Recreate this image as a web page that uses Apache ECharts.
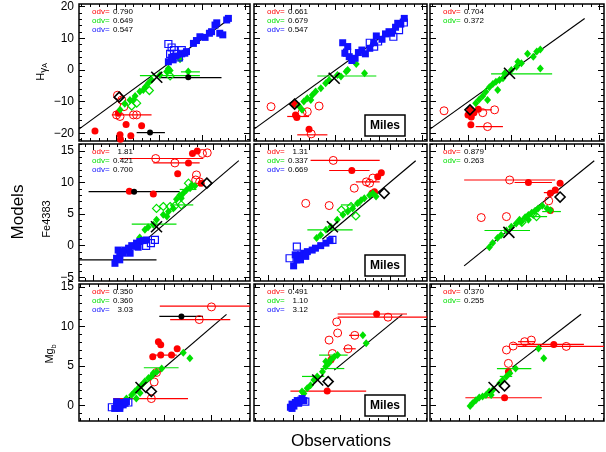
<!DOCTYPE html>
<html><head><meta charset="utf-8">
<script src="https://cdn.jsdelivr.net/npm/echarts@6/dist/echarts.min.js"></script>
<style>html,body{margin:0;padding:0;background:#fff}#c{width:606px;height:452px}</style>
</head><body><div id="c"></div>
<script>
// ---------------- tick values ----------------
const xMajorTicks = [[-10,0,10,20],[-5,0,5,10],[0,5,10]];
const yMajorTicks = [[-20,-10,0,10,20],[-5,0,5,10,15],[0,5,10,15]];
const xMinorStep = [2,1,1];
const yMinorStep = [2,1,1];
const rowLabels = ['Hγ_A','Fe4383','Mg_b'];

// ---------------- data: Hγ_A row ----------------
const R1C1_redF = [[-14.9,-19.3],[-7.7,-17.2],[-9.1,-20.5],[-9.0,-21.9],[-6.6,-20.8],[-4.1,-17.6],[-9.5,-13.7]];
const R1C1_redO = [[-9.7,-8.0],[-8.7,-9.5],[-8.2,-11.6],[-9.9,-14.2],[-9.1,-14.7],[-6.0,-14.2],[-5.25,-14.2]];
const R1C1_grnF = [[-9.1,-12.6],[-8.0,-10.7],[-6.8,-9.5],[-5.6,-8.2],[-4.5,-6.8],[-3.3,-5.5],[-2.55,-4.2],[-1.8,-3.15],[0.15,-1.6],[1.7,-0.5],[2.1,0.5],[2.5,-0.2],[4.8,3.4],[6.7,-0.5],[-3.7,-6.3],[-6.0,-9.5]];
const R1C1_grnO = [[-6.4,-11.4],[-5.25,-10.5],[-2.3,-6.5],[2.5,-1.9]];
const R1C1_bluF = [[2.1,2.6],[3.2,3.2],[2.85,4.0],[3.85,4.4],[5.2,5.1],[5.9,5.3],[6.3,5.8],[7.9,8.4],[8.6,9.3],[9.4,10.5],[10.6,10.3],[11.6,11.6],[12.1,12.1],[12.9,14.2],[13.3,14.9],[14.0,11.6],[14.7,11.1],[15.6,15.8],[16.0,16.3]];
const R1C1_bluO = [[2.1,8.2],[2.85,7.1],[2.5,5.1],[3.4,6.3],[4.0,5.1],[5.2,6.3],[4.55,4.0]];
const R1C1_blkF = [[-2.15,-19.8],[6.7,-2.3]];
const R1C1_cross = [[-0.6,-2.3]];
const R1C1_dia = [[-9.3,-8.6]];
const R1C1_errR = [[-11.0,-1.8,-14.2]];
const R1C1_errG = [[-4.5,9.4,-1.8],[5.0,9.4,-0.6]];
const R1C1_errK = [[0.15,14.4,-2.4],[-5.25,1.3,-19.8]];
const R1C1_line = [[-18.6,-18.7],[16.35,16.3]];
const R1C1_odv = ['0.790','0.649','0.547'];

const R1C2_redF = [[-9.1,-14.2],[-8.8,-15.0],[-6.0,-18.7],[-9.3,-10.8]];
const R1C2_redO = [[-14.7,-11.6],[-3.7,-11.4],[-6.4,-13.2],[-7.6,-13.5],[-5.5,-20.2]];
const R1C2_grnF = [[-8.3,-11.4],[-7.2,-10.0],[-6.4,-8.9],[-5.25,-7.9],[-4.5,-6.8],[-3.3,-5.8],[-2.2,-4.2],[-1.4,-3.15],[0.5,-1.6],[1.3,-2.1],[2.5,-0.5],[2.85,0.0],[4.8,1.9],[6.7,-1.05],[-7.6,-12.6],[-5.6,-9.5]];
const R1C2_grnO = [];
const R1C2_bluF = [[1.7,8.6],[2.85,7.4],[2.2,5.3],[3.2,4.2],[3.8,3.0],[4.55,3.7],[5.3,5.5],[6.1,6.3],[6.9,5.1],[7.9,6.85],[8.8,8.6],[9.4,10.75],[10.7,9.7],[11.5,11.4],[12.3,12.1],[12.9,11.6],[13.8,13.5],[14.3,14.75],[15.0,14.5],[15.8,16.3]];
const R1C2_bluO = [[2.7,5.5],[7.9,8.6],[8.9,7.4],[9.8,9.0],[13.3,10.5],[14.6,12.6],[15.7,15.0]];
const R1C2_blkF = [];
const R1C2_cross = [[-0.25,-2.6]];
const R1C2_dia = [[-9.3,-10.8]];
const R1C2_errR = [[-11.0,-6.0,-14.7],[-8.7,-1.8,-20.5]];
const R1C2_errG = [[-4.1,9.4,-1.9]];
const R1C2_errK = [];
const R1C2_line = [[-18.6,-18.7],[16.35,16.3]];
const R1C2_odv = ['0.661','0.679','0.547'];

const R1C3_redF = [[-9.95,-14.2],[-9.2,-14.9],[-8.6,-13.5],[-7.6,-12.4],[-9.3,-17.3],[-9.5,-12.6]];
const R1C3_redO = [[-15.4,-12.9],[-6.6,-13.5],[-3.9,-12.6],[-5.5,-17.9]];
const R1C3_grnF = [[-8.2,-10.5],[-7.4,-9.3],[-6.6,-8.2],[-5.9,-6.85],[-5.1,-5.5],[-4.3,-4.4],[-3.6,-3.7],[-2.8,-3.15],[-2.0,-2.6],[-1.6,-1.05],[-0.1,0.0],[1.1,1.05],[2.2,2.1],[3.6,5.1],[4.9,4.2],[5.7,5.8],[6.5,6.5],[6.5,0.5],[-5.5,-9.5],[-3.2,-6.3],[1.4,2.6]];
const R1C3_grnO = [];
const R1C3_bluF = [];
const R1C3_bluO = [];
const R1C3_blkF = [];
const R1C3_cross = [[-0.5,-1.05]];
const R1C3_dia = [[-9.5,-12.6]];
const R1C3_errR = [[-8.2,-2.0,-17.9],[-8.0,-4.5,-12.6]];
const R1C3_errG = [[-4.7,9.2,-1.25]];
const R1C3_errK = [];
const R1C3_line = [[-18.6,-18.7],[16.6,16.3]];
const R1C3_odv = ['0.704','0.372'];

// ---------------- data: Fe4383 row ----------------
const R2C1_redF = [[7.4,14.6],[8.0,15.0],[6.9,13.1],[5.55,11.4],[-0.5,8.6],[2.5,8.2],[8.5,9.9]];
const R2C1_redO = [[2.8,13.8],[5.2,13.1],[7.9,11.2],[7.8,10.4],[8.3,10.1],[8.65,14.6],[9.25,14.7]];
const R2C1_grnF = [[0.8,1.3],[1.45,2.5],[1.85,2.9],[2.5,3.3],[2.9,4.1],[3.75,4.9],[4.4,5.4],[5.0,5.9],[5.4,7.35],[6.0,7.5],[6.25,8.3],[6.65,8.8],[7.1,9.1],[7.3,9.6],[7.7,9.45],[5.8,8.0],[4.2,4.6]];
const R2C1_grnO = [[2.9,5.9],[3.75,6.2],[4.6,6.2],[5.2,6.3],[6.0,6.45],[6.9,9.9]];
const R2C1_bluF = [[-2.3,-2.8],[-2.1,-2.0],[-1.7,-1.5],[-1.5,-0.95],[-1.05,-0.7],[-0.6,-0.4],[-0.2,0.0],[0.2,-0.1],[0.4,0.4],[0.8,0.65],[1.25,0.8],[1.65,0.9],[-1.9,-0.7],[-1.25,-1.2],[-1.7,-2.25],[-0.4,-1.2],[0.6,-0.25]];
const R2C1_bluO = [[1.6,-0.05],[2.2,0.4],[2.7,0.9]];
const R2C1_blkF = [[0.1,8.55]];
const R2C1_cross = [[2.9,3.0]];
const R2C1_dia = [[9.2,9.9]];
const R2C1_errR = [[-1.7,8.75,13.8],[2.5,8.3,13.1]];
const R2C1_errG = [[-0.2,5.4,3.4],[4.6,7.5,6.45],[5.8,7.9,8.9]];
const R2C1_errK = [[-6.8,2.9,-2.25],[-5.6,5.8,8.55]];
const R2C1_line = [[1.65,1.0],[13.2,13.46]];
const R2C1_odv = ['1.81','0.421','0.700'];

const R2C2_redF = [[5.3,11.9],[8.95,11.55],[8.5,10.9],[7.8,8.3],[8.1,8.55]];
const R2C2_redO = [[3.0,13.5],[-0.4,6.7],[2.5,6.35],[5.6,9.1],[7.1,10.1],[7.5,9.9],[7.9,10.7]];
const R2C2_grnF = [[0.95,1.2],[1.45,1.7],[2.1,2.5],[2.7,3.0],[3.5,4.1],[4.2,4.9],[4.8,5.4],[5.4,5.9],[6.0,6.7],[6.45,7.2],[6.85,7.5],[7.5,8.0],[7.9,8.3],[8.3,7.8]];
const R2C2_grnO = [[4.0,5.65],[5.8,4.7],[5.2,6.2]];
const R2C2_bluF = [[-1.9,-3.2],[-1.5,-2.25],[-1.05,-1.45],[-0.65,-1.2],[-0.2,-0.95],[0.4,-0.7],[0.8,-0.4],[1.45,0.0],[2.1,0.4],[2.6,0.8],[-1.05,-2.25],[-0.4,-1.7],[-1.7,-1.45]];
const R2C2_bluO = [[-2.4,-2.0],[-1.5,-0.15],[2.9,0.9]];
const R2C2_blkF = [];
const R2C2_cross = [[2.9,3.0]];
const R2C2_dia = [[9.3,8.3]];
const R2C2_errR = [[0.2,8.75,13.5],[2.5,7.5,11.9],[5.8,8.75,10.1]];
const R2C2_errG = [[-0.2,5.4,2.5],[3.95,6.45,6.45]];
const R2C2_errK = [];
const R2C2_line = [[1.65,1.0],[13.2,13.46]];
const R2C2_odv = ['1.31','0.337','0.669'];

const R2C3_redF = [[5.3,10.0],[9.2,9.9],[8.0,8.3],[8.6,8.8],[8.0,5.55]];
const R2C3_redO = [[3.0,10.4],[-0.5,4.45],[2.6,4.6],[7.8,7.1]];
const R2C3_grnF = [[0.5,-0.25],[0.9,0.4],[1.5,1.2],[1.95,1.7],[2.6,2.4],[3.2,3.0],[3.8,3.5],[4.2,4.1],[4.9,4.5],[5.3,4.85],[5.7,5.2],[6.1,5.5],[6.5,5.9],[7.0,6.3],[7.6,5.9],[8.0,5.6],[5.3,4.1],[4.45,3.8]];
const R2C3_grnO = [[6.3,4.6],[4.5,3.7],[5.9,5.0]];
const R2C3_bluF = [];
const R2C3_bluO = [];
const R2C3_blkF = [];
const R2C3_cross = [[2.9,2.1]];
const R2C3_dia = [[9.2,7.7]];
const R2C3_errR = [[-2.6,8.6,10.4],[3.6,8.2,10.0],[7.2,9.0,8.4]];
const R2C3_errG = [[-0.1,5.5,2.4],[4.9,7.6,4.6],[7.0,9.3,5.4]];
const R2C3_errK = [];
const R2C3_line = [[-2.6,-3.2],[13.4,13.46]];
const R2C3_odv = ['0.879','0.263'];

// ---------------- data: Mg_b row ----------------
const R3C1_redF = [[4.35,8.1],[4.6,7.7],[3.75,6.2],[4.6,6.4],[5.75,6.4],[6.35,7.2]];
const R3C1_redO = [[10.0,12.5],[8.7,10.9],[4.15,4.2],[3.6,0.9],[3.9,3.0]];
const R3C1_grnF = [[0.95,0.9],[1.5,1.35],[1.85,1.8],[2.2,2.2],[2.55,2.6],[2.9,3.05],[3.3,3.5],[3.6,3.7],[3.8,4.1],[4.15,4.3],[4.7,4.7],[7.0,6.7],[7.7,6.0],[2.0,0.9],[2.4,1.6]];
const R3C1_grnO = [];
const R3C1_bluF = [[-0.3,-0.35],[-0.1,0.1],[0.1,0.3],[0.25,-0.05],[0.45,0.4],[0.6,0.1],[0.8,0.3],[0.95,0.5],[-0.1,0.5],[0.25,-0.35]];
const R3C1_bluO = [[-0.6,-0.2],[1.15,0.4]];
const R3C1_blkF = [[6.8,11.3]];
const R3C1_cross = [[2.5,2.3]];
const R3C1_dia = [[3.6,1.8]];
const R3C1_errR = [[4.5,14.5,12.6],[5.6,12.0,10.9],[-0.45,7.5,0.9],[3.75,6.3,6.4]];
const R3C1_errG = [[2.8,6.5,4.8]];
const R3C1_errK = [[4.45,9.1,11.3]];
const R3C1_line = [[1.15,0.9],[11.6,11.56]];
const R3C1_odv = ['0.350','0.360','3.03'];

const R3C2_redF = [[8.8,11.6],[4.0,5.8],[3.6,1.85]];
const R3C2_redO = [[4.6,10.6],[4.7,9.2],[3.8,8.3],[6.5,8.9],[5.8,7.2],[10.0,11.2],[4.15,6.6]];
const R3C2_grnF = [[1.15,1.55],[1.5,2.2],[1.85,2.6],[2.2,3.25],[2.55,3.7],[3.1,4.3],[3.45,4.95],[3.8,5.4],[4.0,5.8],[4.35,6.2],[4.7,6.4],[7.35,8.9],[7.7,7.9],[0.95,1.8],[3.45,5.6]];
const R3C2_grnO = [];
const R3C2_bluF = [[-0.27,-0.2],[-0.1,0.2],[0.1,-0.05],[0.25,0.4],[0.45,0.65],[0.6,0.3],[0.8,0.7],[0.95,0.9],[1.15,0.65],[-0.1,-0.35]];
const R3C2_bluO = [[1.3,0.5]];
const R3C2_blkF = [];
const R3C2_cross = [[2.6,3.25]];
const R3C2_dia = [[3.7,3.05]];
const R3C2_errR = [[4.7,12.0,11.6],[4.7,14.5,11.2],[-0.27,7.7,1.85],[5.9,6.95,8.9],[5.3,6.6,7.2]];
const R3C2_errG = [[2.75,5.75,6.4],[2.9,5.4,4.7],[0.95,3.3,3.7]];
const R3C2_errK = [];
const R3C2_line = [[4.34,4.5],[11.5,11.56]];
const R3C2_odv = ['0.491','1.10','3.12'];

const R3C3_redF = [[8.85,7.75],[4.1,4.3],[3.7,1.0]];
const R3C3_redO = [[3.9,7.05],[4.6,7.55],[5.8,8.1],[6.5,8.3],[10.15,7.5],[4.1,5.35]];
const R3C3_grnF = [[0.1,-0.05],[0.35,0.3],[0.7,0.7],[1.05,1.05],[1.4,1.15],[1.75,1.35],[2.1,1.8],[2.5,2.0],[3.2,2.85],[3.5,3.25],[3.9,3.7],[4.25,4.1],[4.85,4.7],[7.25,7.25],[7.8,6.0],[2.3,1.35]];
const R3C3_grnO = [];
const R3C3_bluF = [];
const R3C3_bluO = [];
const R3C3_blkF = [];
const R3C3_cross = [[2.6,2.3]];
const R3C3_dia = [[3.7,2.5]];
const R3C3_errR = [[4.4,12.0,7.75],[5.1,14.5,7.5],[-0.4,7.6,1.0],[5.1,6.9,8.1]];
const R3C3_errG = [[2.9,6.5,4.7],[3.2,4.5,3.7]];
const R3C3_errK = [];
const R3C3_line = [[4.5,4.85],[11.7,11.56]];
const R3C3_odv = ['0.370','0.255'];

// ---------------- layout ----------------
const COLS = [[79,171],[254,173],[430,174]];
const ROWS = [[4,137],[144,137],[284,137]];
const XR = [[-18.6,21],[-6.8,14.6],[-4.1,14.1]];
const YR = [[-22.45,20.85],[-5.6,16.1],[-1.94,15.4]];
const RED='#ff0000', GRN='#00e000', BLU='#1010ff';
const FONT='"Liberation Sans", Arial, Helvetica, sans-serif';

const PANELS = [
  [R1C1_redF,R1C1_redO,R1C1_grnF,R1C1_grnO,R1C1_bluF,R1C1_bluO,R1C1_blkF,R1C1_cross,R1C1_dia,R1C1_errR,R1C1_errG,R1C1_errK,R1C1_line,R1C1_odv],
  [R1C2_redF,R1C2_redO,R1C2_grnF,R1C2_grnO,R1C2_bluF,R1C2_bluO,R1C2_blkF,R1C2_cross,R1C2_dia,R1C2_errR,R1C2_errG,R1C2_errK,R1C2_line,R1C2_odv],
  [R1C3_redF,R1C3_redO,R1C3_grnF,R1C3_grnO,R1C3_bluF,R1C3_bluO,R1C3_blkF,R1C3_cross,R1C3_dia,R1C3_errR,R1C3_errG,R1C3_errK,R1C3_line,R1C3_odv],
  [R2C1_redF,R2C1_redO,R2C1_grnF,R2C1_grnO,R2C1_bluF,R2C1_bluO,R2C1_blkF,R2C1_cross,R2C1_dia,R2C1_errR,R2C1_errG,R2C1_errK,R2C1_line,R2C1_odv],
  [R2C2_redF,R2C2_redO,R2C2_grnF,R2C2_grnO,R2C2_bluF,R2C2_bluO,R2C2_blkF,R2C2_cross,R2C2_dia,R2C2_errR,R2C2_errG,R2C2_errK,R2C2_line,R2C2_odv],
  [R2C3_redF,R2C3_redO,R2C3_grnF,R2C3_grnO,R2C3_bluF,R2C3_bluO,R2C3_blkF,R2C3_cross,R2C3_dia,R2C3_errR,R2C3_errG,R2C3_errK,R2C3_line,R2C3_odv],
  [R3C1_redF,R3C1_redO,R3C1_grnF,R3C1_grnO,R3C1_bluF,R3C1_bluO,R3C1_blkF,R3C1_cross,R3C1_dia,R3C1_errR,R3C1_errG,R3C1_errK,R3C1_line,R3C1_odv],
  [R3C2_redF,R3C2_redO,R3C2_grnF,R3C2_grnO,R3C2_bluF,R3C2_bluO,R3C2_blkF,R3C2_cross,R3C2_dia,R3C2_errR,R3C2_errG,R3C2_errK,R3C2_line,R3C2_odv],
  [R3C3_redF,R3C3_redO,R3C3_grnF,R3C3_grnO,R3C3_bluF,R3C3_bluO,R3C3_blkF,R3C3_cross,R3C3_dia,R3C3_errR,R3C3_errG,R3C3_errK,R3C3_line,R3C3_odv]
];

function steps(a, b, s) { const o=[]; for (let v=Math.ceil(a/s)*s; v<=b+1e-9; v+=s) o.push(+v.toFixed(6)); return o; }
function fmt(v){ return v<0 ? '\u2212'+Math.abs(v) : String(v); }

const grid=[], xAxis=[], yAxis=[], series=[], graphic=[];

function tickAxis(kind, p, r, pos, vals, len, labels) {
  const isX = kind==='x';
  const rng = isX ? XR[r] : YR[r];
  return {
    type:'value', gridIndex:p, position:pos, min:rng[0], max:rng[1],
    splitLine:{show:false}, axisLine:{show:false,onZero:false},
    axisTick:{show:true, inside:true, length:len, customValues:vals, lineStyle:{color:'#000',width:1}},
    axisLabel: labels ? {show:true, customValues:labels, formatter:fmt, color:'#000', fontSize:12, fontFamily:FONT, margin:5} : {show:false}
  };
}

function errSeries(p, data, color) {
  return {type:'custom', xAxisIndex:4*p, yAxisIndex:4*p, data:data, clip:true, silent:true, z:2,
    renderItem:function(params, api){
      const y=api.value(2); const a=api.coord([api.value(0),y]); const b=api.coord([api.value(1),y]);
      return {type:'line', shape:{x1:a[0],y1:a[1],x2:b[0],y2:b[1]}, style:{stroke:color, lineWidth:1.2}};
    }};
}
function sc(p, data, symbol, size, fill, stroke, bw, z) {
  return {type:'scatter', xAxisIndex:4*p, yAxisIndex:4*p, data:data, symbol:symbol, symbolSize:size, silent:true, z:z,
    itemStyle:{color:fill, borderColor:stroke, borderWidth:bw, opacity:1}};
}

for (let r=0; r<3; r++) for (let c=0; c<3; c++) {
  const p = r*3+c;
  const [L,W] = COLS[c], [T,H] = ROWS[r];
  grid.push({left:L, top:T, width:W, height:H, show:true, borderColor:'#000', borderWidth:1.5, backgroundColor:'rgba(0,0,0,0)'});
  const xMin = steps(XR[r][0], XR[r][1], xMinorStep[r]);
  const yMin = steps(YR[r][0], YR[r][1], yMinorStep[r]);
  xAxis.push(tickAxis('x',p,r,'bottom',xMajorTicks[r],6,null));
  xAxis.push(tickAxis('x',p,r,'bottom',xMin,3,null));
  xAxis.push(tickAxis('x',p,r,'top',xMajorTicks[r],6,null));
  xAxis.push(tickAxis('x',p,r,'top',xMin,3,null));
  yAxis.push(tickAxis('y',p,r,'left',yMajorTicks[r],6,c===0?yMajorTicks[r]:null));
  yAxis.push(tickAxis('y',p,r,'left',yMin,3,null));
  yAxis.push(tickAxis('y',p,r,'right',yMajorTicks[r],6,null));
  yAxis.push(tickAxis('y',p,r,'right',yMin,3,null));

  const [redF,redO,grnF,grnO,bluF,bluO,blkF,cross,dia,errR,errG,errK,line,odv] = PANELS[p];
  series.push({type:'line', xAxisIndex:4*p, yAxisIndex:4*p, data:line, symbol:'none', silent:true, z:1,
    lineStyle:{color:'#000', width:1.2}, clip:true});
  series.push(errSeries(p, errR, RED));
  series.push(errSeries(p, errG, GRN));
  series.push(sc(p, redO, 'circle', 8, 'rgba(0,0,0,0)', RED, 1, 3));
  series.push(sc(p, redF, 'circle', 7, RED, RED, 0, 4));
  series.push(sc(p, grnO, 'diamond', 8, 'rgba(0,0,0,0)', GRN, 1.2, 5));
  series.push(sc(p, grnF, 'diamond', [7,8], GRN, GRN, 0, 6));
  series.push(sc(p, bluO, 'rect', 7, 'rgba(0,0,0,0)', BLU, 1.2, 7));
  series.push(sc(p, bluF, 'rect', 7, BLU, BLU, 0, 8));
  series.push(errSeries(p, errK, '#000'));
  series.push(sc(p, blkF, 'circle', 6, '#000', '#000', 0, 9));
  series.push(sc(p, dia, 'diamond', 10, 'rgba(0,0,0,0)', '#000', 1.6, 10));
  series.push({type:'custom', xAxisIndex:4*p, yAxisIndex:4*p, data:cross, silent:true, z:10,
    renderItem:function(params, api){
      const q=api.coord([api.value(0),api.value(1)]); const d=5.5;
      return {type:'group', children:[
        {type:'line', shape:{x1:q[0]-d,y1:q[1]-d,x2:q[0]+d,y2:q[1]+d}, style:{stroke:'#000',lineWidth:1.6}},
        {type:'line', shape:{x1:q[0]-d,y1:q[1]+d,x2:q[0]+d,y2:q[1]-d}, style:{stroke:'#000',lineWidth:1.6}}]};
    }});

  const cols=[RED,GRN,BLU];
  odv.forEach(function(v,i){
    const y = T + 8 + i*8.7;
    graphic.push({type:'text', x:L+13, y:y, z:20, style:{text:'odv=', fill:cols[i], font:'8px '+FONT, textAlign:'left', textVerticalAlign:'middle'}});
    graphic.push({type:'text', x:L+54, y:y, z:20, style:{text:v, fill:'#000', font:'8px '+FONT, textAlign:'right', textVerticalAlign:'middle'}});
  });
  if (c===1) {
    graphic.push({type:'rect', z:20, shape:{x:365, y:T+H-26, width:40, height:21}, style:{fill:'#fff', stroke:'#000', lineWidth:1.5}});
    graphic.push({type:'text', z:21, x:385, y:T+H-15.5, style:{text:'Miles', fill:'#000', font:'bold 12px '+FONT, textAlign:'center', textVerticalAlign:'middle'}});
  }
}

// row titles (rotated)
const rowTitlePos = [[41,72],[47,219],[50,354]];
const rich = {n:{fontSize:11, fontFamily:FONT, fill:'#000', verticalAlign:'middle', lineHeight:16},
              g:{fontSize:10, fontFamily:FONT, fill:'#000', verticalAlign:'bottom', lineHeight:12},
              s:{fontSize:7, fontFamily:FONT, fill:'#000', verticalAlign:'bottom', lineHeight:7}};
const rowTitleRich = ['{n|H}{g|γ}{s|A}', '{n|Fe4383}', '{n|Mg}{s|b}'];
rowTitleRich.forEach(function(t,i){
  graphic.push({type:'text', x:rowTitlePos[i][0], y:rowTitlePos[i][1], rotation:Math.PI/2, z:20,
    style:{text:t, rich:rich, align:'center', verticalAlign:'middle', textAlign:'center', textVerticalAlign:'middle'}});
});
graphic.push({type:'text', x:18, y:212, rotation:Math.PI/2, z:20, style:{text:'Models', fill:'#000', font:'17px '+FONT, textAlign:'center', textVerticalAlign:'middle'}});
graphic.push({type:'text', x:341, y:441, z:20, style:{text:'Observations', fill:'#000', font:'17px '+FONT, textAlign:'center', textVerticalAlign:'middle'}});

const chart = echarts.init(document.getElementById('c'), null, {renderer:'canvas'});
chart.setOption({animation:false, backgroundColor:'#fff', grid:grid, xAxis:xAxis, yAxis:yAxis, series:series, graphic:graphic});
</script></body></html>
